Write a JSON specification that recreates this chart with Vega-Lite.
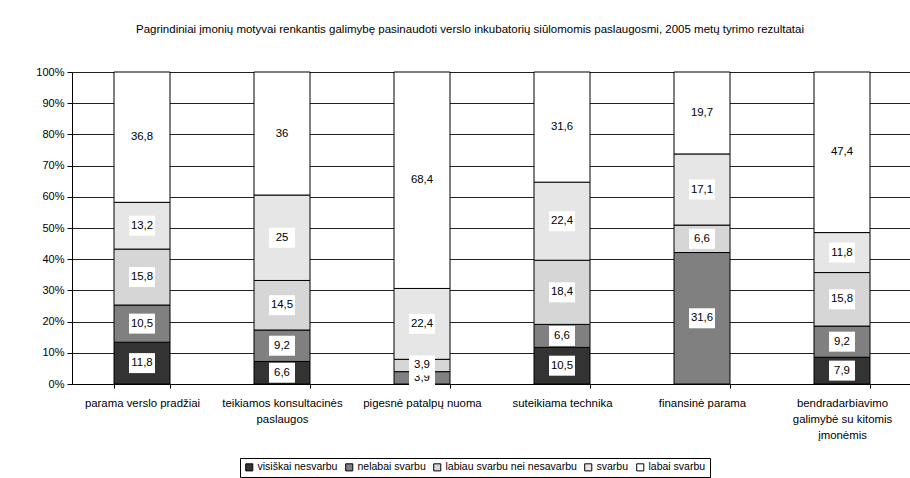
{
  "$schema": "https://vega.github.io/schema/vega-lite/v6.json",
  "width": 840,
  "height": 312,
  "autosize": {"type": "none"},
  "padding": {"left": 72, "top": 72, "right": 0, "bottom": 94},
  "background": "white",
  "config": {
    "font": "Liberation Sans",
    "view": {"stroke": null},
    "axisY": {
      "title": null,
      "format": ".0%",
      "values": [0, 0.1, 0.2, 0.3, 0.4, 0.5, 0.6, 0.7, 0.8, 0.9, 1],
      "labelOverlap": false,
      "grid": true,
      "gridColor": "#222",
      "gridOpacity": 1,
      "domainColor": "black",
      "tickColor": "black",
      "tickSize": 5,
      "labelFontSize": 11,
      "labelColor": "black",
      "labelPadding": 3
    }
  },
  "title": {
    "text": "Pagrindiniai įmonių motyvai renkantis galimybę pasinaudoti verslo inkubatorių siūlomomis paslaugosmi, 2005 metų tyrimo rezultatai",
    "fontSize": 11.5,
    "fontWeight": "normal",
    "color": "black",
    "anchor": "middle",
    "offset": 31,
    "dx": -22
  },
  "data": {
    "values": [
      {"cat": "parama verslo pradžiai", "s": "visiškai nesvarbu", "v": 11.8},
      {"cat": "parama verslo pradžiai", "s": "nelabai svarbu", "v": 10.5},
      {"cat": "parama verslo pradžiai", "s": "labiau svarbu nei nesavarbu", "v": 15.8},
      {"cat": "parama verslo pradžiai", "s": "svarbu", "v": 13.2},
      {"cat": "parama verslo pradžiai", "s": "labai svarbu", "v": 36.8},
      {"cat": "teikiamos konsultacinės|paslaugos", "s": "visiškai nesvarbu", "v": 6.6},
      {"cat": "teikiamos konsultacinės|paslaugos", "s": "nelabai svarbu", "v": 9.2},
      {"cat": "teikiamos konsultacinės|paslaugos", "s": "labiau svarbu nei nesavarbu", "v": 14.5},
      {"cat": "teikiamos konsultacinės|paslaugos", "s": "svarbu", "v": 25},
      {"cat": "teikiamos konsultacinės|paslaugos", "s": "labai svarbu", "v": 36},
      {"cat": "pigesnė patalpų nuoma", "s": "visiškai nesvarbu", "v": 0},
      {"cat": "pigesnė patalpų nuoma", "s": "nelabai svarbu", "v": 3.9},
      {"cat": "pigesnė patalpų nuoma", "s": "labiau svarbu nei nesavarbu", "v": 3.9},
      {"cat": "pigesnė patalpų nuoma", "s": "svarbu", "v": 22.4},
      {"cat": "pigesnė patalpų nuoma", "s": "labai svarbu", "v": 68.4},
      {"cat": "suteikiama technika", "s": "visiškai nesvarbu", "v": 10.5},
      {"cat": "suteikiama technika", "s": "nelabai svarbu", "v": 6.6},
      {"cat": "suteikiama technika", "s": "labiau svarbu nei nesavarbu", "v": 18.4},
      {"cat": "suteikiama technika", "s": "svarbu", "v": 22.4},
      {"cat": "suteikiama technika", "s": "labai svarbu", "v": 31.6},
      {"cat": "finansinė parama", "s": "visiškai nesvarbu", "v": 0},
      {"cat": "finansinė parama", "s": "nelabai svarbu", "v": 31.6},
      {"cat": "finansinė parama", "s": "labiau svarbu nei nesavarbu", "v": 6.6},
      {"cat": "finansinė parama", "s": "svarbu", "v": 17.1},
      {"cat": "finansinė parama", "s": "labai svarbu", "v": 19.7},
      {"cat": "bendradarbiavimo|galimybė su kitomis|įmonėmis", "s": "visiškai nesvarbu", "v": 7.9},
      {"cat": "bendradarbiavimo|galimybė su kitomis|įmonėmis", "s": "nelabai svarbu", "v": 9.2},
      {"cat": "bendradarbiavimo|galimybė su kitomis|įmonėmis", "s": "labiau svarbu nei nesavarbu", "v": 15.8},
      {"cat": "bendradarbiavimo|galimybė su kitomis|įmonėmis", "s": "svarbu", "v": 11.8},
      {"cat": "bendradarbiavimo|galimybė su kitomis|įmonėmis", "s": "labai svarbu", "v": 47.4}
    ]
  },
  "transform": [
    {"calculate": "indexof(['visiškai nesvarbu','nelabai svarbu','labiau svarbu nei nesavarbu','svarbu','labai svarbu'], datum.s)", "as": "k"},
    {"stack": "v", "groupby": ["cat"], "sort": [{"field": "k", "order": "ascending"}], "offset": "normalize", "as": ["y0", "y1"]},
    {"calculate": "(datum.y0 + datum.y1) / 2", "as": "mid"},
    {"calculate": "replace(toString(datum.v), '.', ',')", "as": "lbl"}
  ],
  "encoding": {
    "x": {
      "field": "cat",
      "type": "nominal",
      "sort": null,
      "scale": {"paddingInner": 0.6, "paddingOuter": 0.3},
      "axis": {
        "title": null,
        "labelAngle": 0,
        "labelExpr": "split(datum.label, '|')",
        "labelFontSize": 11.4,
        "labelColor": "black",
        "labelPadding": 9,
        "labelLineHeight": 16,
        "labelBaseline": "top",
        "labelLimit": 200,
        "tickBand": "extent",
        "domainColor": "black",
        "tickColor": "black",
        "tickSize": 4
      }
    }
  },
  "layer": [
    {
      "mark": {"type": "bar", "stroke": "black", "strokeWidth": 1},
      "encoding": {
        "y": {
          "field": "y0",
          "type": "quantitative",
          "scale": {"domain": [0, 1], "nice": false}
        },
        "y2": {"field": "y1"},
        "fill": {
          "field": "s",
          "type": "nominal",
          "scale": {
            "domain": ["visiškai nesvarbu", "nelabai svarbu", "labiau svarbu nei nesavarbu", "svarbu", "labai svarbu"],
            "range": ["#333333", "#808080", "#d6d6d6", "#e6e6e6", "#ffffff"]
          },
          "legend": {
            "title": null,
            "orient": "none",
            "legendX": 168,
            "legendY": 386,
            "direction": "horizontal",
            "strokeColor": "black",
            "fillColor": "white",
            "padding": 4,
            "symbolType": "square",
            "symbolSize": 50,
            "symbolStrokeColor": "black",
            "symbolStrokeWidth": 1,
            "labelFontSize": 10.5,
            "labelColor": "black",
            "labelOffset": 3,
            "columnPadding": 5,
            "labelLimit": 300
          }
        }
      }
    },
    {
      "transform": [{"filter": "datum.v > 0 && datum.k <= 1"}],
      "mark": {"type": "point", "shape": "M-1.3,-1H1.3V1H-1.3Z", "filled": true, "color": "white", "opacity": 1, "strokeWidth": 0, "size": 400},
      "encoding": {"y": {"field": "mid", "type": "quantitative"}}
    },
    {
      "transform": [{"filter": "datum.v > 0 && datum.k <= 1"}],
      "mark": {"type": "text", "fontSize": 11.4, "color": "black", "baseline": "middle"},
      "encoding": {"y": {"field": "mid", "type": "quantitative"}, "text": {"field": "lbl"}}
    },
    {
      "transform": [{"filter": "datum.v > 0 && datum.k >= 2"}],
      "mark": {"type": "point", "shape": "M-1.3,-1H1.3V1H-1.3Z", "filled": true, "color": "white", "opacity": 1, "strokeWidth": 0, "size": 400},
      "encoding": {"y": {"field": "mid", "type": "quantitative"}}
    },
    {
      "transform": [{"filter": "datum.v > 0 && datum.k >= 2"}],
      "mark": {"type": "text", "fontSize": 11.4, "color": "black", "baseline": "middle"},
      "encoding": {"y": {"field": "mid", "type": "quantitative"}, "text": {"field": "lbl"}}
    }
  ]
}
